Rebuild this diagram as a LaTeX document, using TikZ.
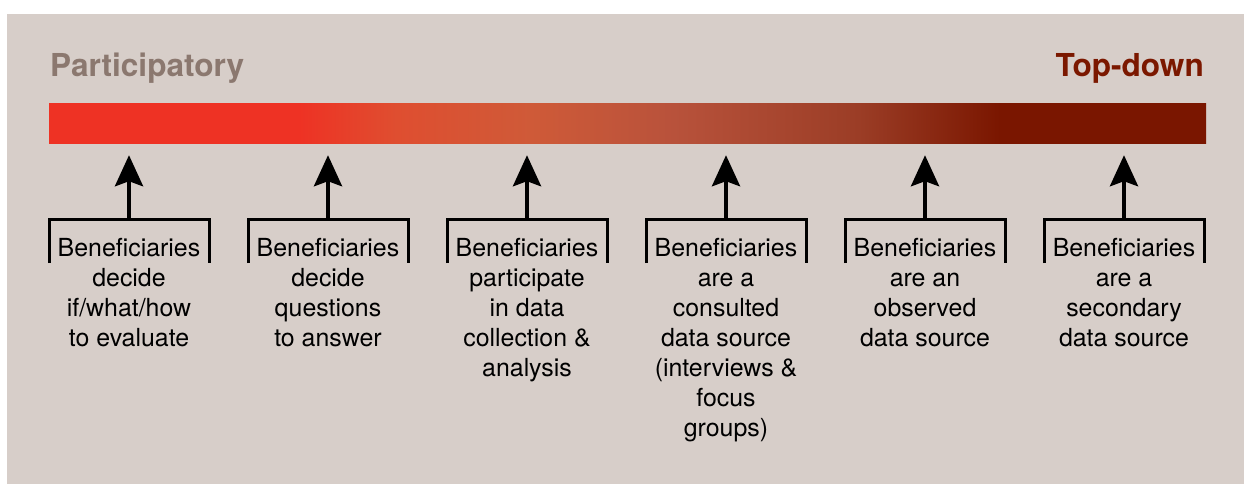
\documentclass[tikz,border=0pt]{standalone}
\usepackage{fontspec}
\setmainfont{TeX Gyre Heros}
\usetikzlibrary{arrows.meta}
\definecolor{bg}{HTML}{D7CEC9}
\definecolor{partc}{HTML}{8B786F}
\definecolor{topc}{HTML}{7B1800}
\definecolor{redA}{HTML}{EE3224}
\definecolor{redB}{HTML}{DF4E30}
\definecolor{redC}{HTML}{CF5A38}
\definecolor{redD}{HTML}{B8523B}
\definecolor{redE}{HTML}{9B3D26}
\definecolor{redF}{HTML}{7A1600}
\pgfdeclarehorizontalshading{barshade}{100bp}{color(0bp)=(redA); color(35.8bp)=(redA); color(40bp)=(redB); color(45.8bp)=(redC); color(52bp)=(redD); color(60bp)=(redE); color(66.1bp)=(redF); color(100bp)=(redF)}
\tikzset{
  bar/.style={rectangle, inner sep=0pt, minimum width=1157pt, minimum height=39pt, shading=barshade},
  title/.style={inner sep=0pt, font=\fontsize{31.6}{36}\selectfont\bfseries},
  lab/.style={inner sep=0pt, font=\fontsize{24.9}{30}\selectfont},
  brk/.style={line width=3pt, line join=miter},
  arr/.style={line width=4pt, -{Stealth[length=31pt, width=28pt, inset=5pt]}, shorten >=12pt}
}
\begin{document}
\begin{tikzpicture}[x=1pt,y=-1pt]
\useasboundingbox (0,0) rectangle (1244,484);
\fill[bg] (7,14) rectangle (1244,484);
\node[bar] (bar) at (627.5,123.5) {};
\node[title, text=partc, anchor=base west] (tl) at (50,77) {Participatory};
\node[title, text=topc, anchor=base east] (tr) at (1204,77) {Top-down};
\foreach \i/\x/\txt in {
  1/129/{Beneficiaries\\decide\\if/what/how\\to evaluate},
  2/328/{Beneficiaries\\decide\\questions\\to answer},
  3/527/{Beneficiaries\\participate\\in data\\collection \&\\analysis},
  4/726/{Beneficiaries\\are a\\consulted\\data source\\(interviews \&\\focus\\groups)},
  5/925/{Beneficiaries\\are an\\observed\\data source},
  6/1124/{Beneficiaries\\are a\\secondary\\data source}}{
  \node[lab, anchor=base] (t\i) at (\x,256) {\begin{tabular}[t]{@{}c@{}}\txt\end{tabular}};
  \coordinate (b\i) at (\x,219);
  \draw[brk] (b\i) ++(-80,44) -- ++(0,-44) -- ++(160,0) -- ++(0,44);
  \draw[arr] (b\i) -- (b\i |- bar.south);
}
\end{tikzpicture}
\end{document}
